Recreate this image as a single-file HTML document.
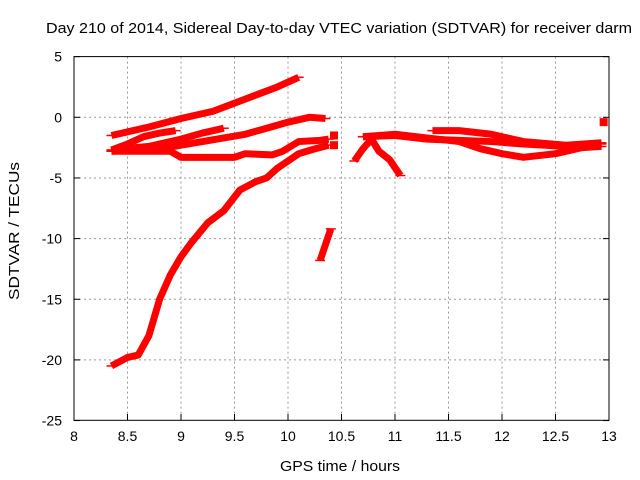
<!DOCTYPE html>
<html><head><meta charset="utf-8"><style>
body{margin:0;background:#fff;}
svg{display:block;font-family:"Liberation Sans",sans-serif;}
</style></head><body>
<svg id="chart" width="640" height="480" viewBox="0 0 640 480">
<rect width="640" height="480" fill="#fff"/>
<text x="339" y="33" font-size="15" text-anchor="middle" textLength="586" lengthAdjust="spacingAndGlyphs">Day 210 of 2014, Sidereal Day-to-day VTEC variation (SDTVAR) for receiver darm</text>
<text x="340" y="471" font-size="15" text-anchor="middle" textLength="120" lengthAdjust="spacingAndGlyphs">GPS time / hours</text>
<text x="19" y="231" font-size="15" text-anchor="middle" transform="rotate(-90 19 231)" textLength="138" lengthAdjust="spacingAndGlyphs">SDTVAR / TECUs</text>
<g id="grid"></g><g id="ticks"></g><g id="series"></g>
<rect x="74" y="56.6" width="535" height="363.7" fill="none" stroke="#000" stroke-width="1"/>
</svg>
<script>
const xTicks=[8,8.5,9,9.5,10,10.5,11,11.5,12,12.5,13];
const yTicks=[5,0,-5,-10,-15,-20,-25];
const sA=[[8.35,-1.5],[8.5,-1.2],[8.7,-0.8],[9,-0.1],[9.3,0.5],[9.6,1.5],[9.9,2.5],[10.1,3.3]];
const sB1=[[8.35,-2.7],[8.5,-2.2],[8.65,-1.6],[8.8,-1.3],[8.95,-1.1]];
const sB2=[[8.35,-2.7],[8.7,-2.4],[9.0,-1.8],[9.2,-1.3],[9.4,-0.9]];
const sC=[[8.35,-2.8],[8.8,-2.6],[9.2,-2.0],[9.6,-1.4],[9.8,-0.9],[10,-0.4],[10.2,0],[10.35,-0.1]];
const sD=[[8.35,-2.8],[8.9,-2.8],[9.0,-3.3],[9.5,-3.3],[9.6,-3.0],[9.85,-3.1],[9.95,-2.8],[10.1,-2.0],[10.3,-1.9],[10.38,-1.8]];
const sE=[[8.35,-20.5],[8.5,-19.8],[8.6,-19.6],[8.7,-18],[8.8,-15],[8.9,-13],[9.0,-11.5],[9.1,-10.3],[9.25,-8.7],[9.4,-7.7],[9.55,-6],[9.7,-5.3],[9.8,-5],[9.9,-4.2],[10.0,-3.6],[10.1,-3.0],[10.25,-2.6],[10.38,-2.3]];
const sF=[[10.3,-11.8],[10.4,-9.2]];
const sG=[[10.7,-1.6],[11.0,-1.4],[11.3,-1.7],[11.6,-2.0],[11.8,-2.6],[12.0,-3.0],[12.2,-3.3],[12.5,-3.0],[12.75,-2.5],[12.93,-2.4]];
const sH=[[10.7,-1.6],[11.0,-1.5],[11.3,-1.8],[11.6,-1.9],[11.9,-2.0],[12.2,-2.2],[12.6,-2.4],[12.93,-2.2]];
const sI=[[11.35,-1.1],[11.6,-1.1],[11.9,-1.4],[12.2,-2.0],[12.6,-2.3],[12.93,-2.1]];
const sJ=[[10.62,-3.6],[10.7,-2.6],[10.78,-1.8],[10.85,-2.8],[10.95,-3.5],[11.05,-4.8]];
const sPts=[[12.95,-0.4],[10.43,-1.5],[10.43,-2.3]];
const X=v=>74+(v-8)*107, Y=v=>117.3-v*12.13;
const NS='http://www.w3.org/2000/svg';
function mk(t,a,p){const e=document.createElementNS(NS,t);for(const k in a)e.setAttribute(k,a[k]);p.appendChild(e);return e;}
const grid=document.getElementById('grid'),ticks=document.getElementById('ticks'),ser=document.getElementById('series');
xTicks.forEach(v=>{
  if(v>8&&v<13){const l=mk('line',{x1:X(v),x2:X(v),y1:56.6,y2:420.3,stroke:'#999','stroke-dasharray':'2,3'},grid);
  
  }
  mk('line',{x1:X(v),x2:X(v),y1:420.3,y2:414,stroke:'#000'},ticks);
  const t=mk('text',{x:X(v),y:441,'font-size':14,'text-anchor':'middle'},ticks);t.textContent=v;
  
  
});
yTicks.forEach(v=>{
  if(v<5&&v>-25){const l=mk('line',{x1:74,x2:609,y1:Y(v),y2:Y(v),stroke:'#999','stroke-dasharray':'2,3'},grid);
  
  }
  mk('line',{x1:74,x2:80,y1:Y(v),y2:Y(v),stroke:'#000'},ticks);
  mk('line',{x1:609,x2:603,y1:Y(v),y2:Y(v),stroke:'#000'},ticks);
  const t=mk('text',{x:62,y:Y(v)+5,'font-size':14,'text-anchor':'end'},ticks);t.textContent=v;
  
  
});
[sA,sB1,sB2,sC,sD,sE,sF,sG,sH,sI,sJ].forEach(s=>{
  const p=mk('polyline',{points:s.map(d=>X(d[0])+','+Y(d[1])).join(' '),fill:'none',stroke:'#f00','stroke-width':7,'stroke-linejoin':'round','stroke-linecap':'butt'},ser);
  
  
  [s[0],s[s.length-1]].forEach(d=>{mk('line',{x1:X(d[0])-5,x2:X(d[0])+5,y1:Y(d[1]),y2:Y(d[1]),stroke:'#f00','stroke-width':1.5},ser);});
});
sPts.forEach(d=>{const r=mk('rect',{x:X(d[0])-4,y:Y(d[1])-4,width:8,height:8,fill:'#f00'},ser);
  
  });
</script>
</body></html>
